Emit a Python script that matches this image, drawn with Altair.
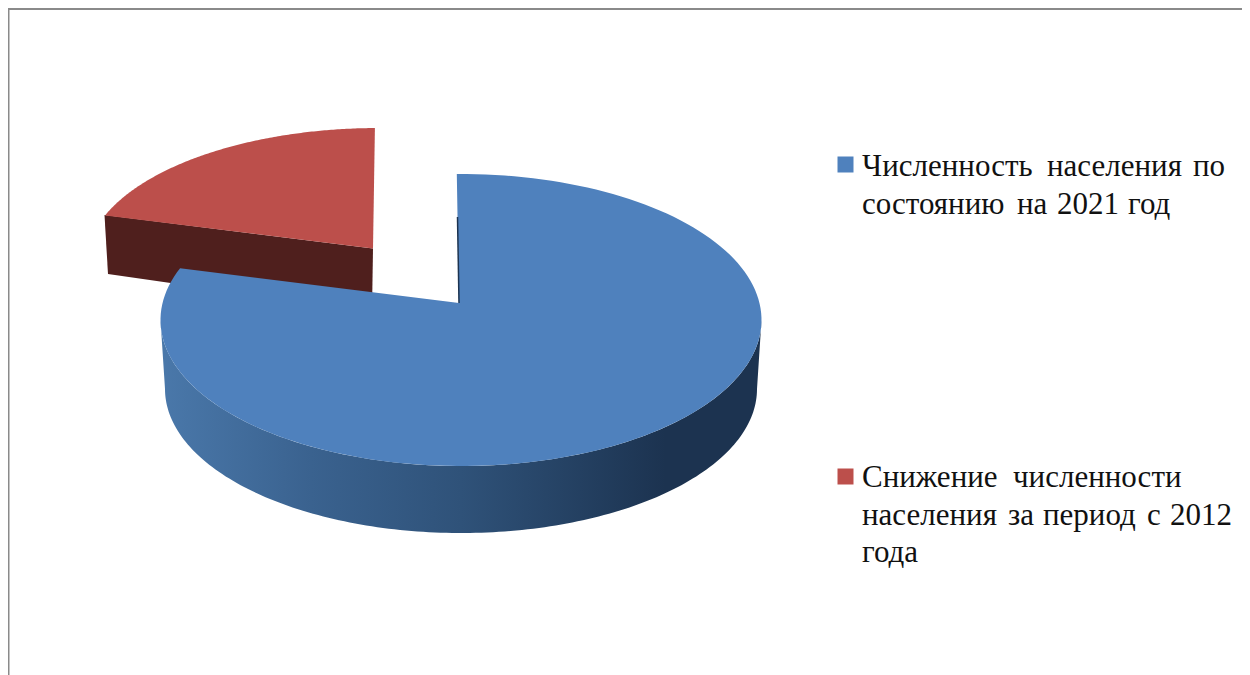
import numpy as np
import pandas as pd
import altair as alt

series = ["Численность населения по состоянию на 2021 год", "Снижение численности населения за период с 2012 года"]
shares = [81.0, 19.0]
legend_lines = [
    ["Численность населения по", "состоянию на 2021 год"],
    ["Снижение численности", "населения за период с 2012", "года"],
]
word_left = [
    [[862, 1047, 1193], [862, 1017, 1057, 1128]],
    [[862, 1013], [862, 1008, 1043, 1147, 1170], [862]],
]
START = -0.8
W, H = 1234, 667
BLUE, RED, DARK_RED, DARK_BLUE = "#4f81bd", "#bc4f4b", "#4f1f1d", "#1c3350"

a0 = START
a1 = a0 + shares[0] * 3.6
a2 = a1 + shares[1] * 3.6


def rim(cx, cy, rx, ry, t0, t1, n=160):
    t = np.radians(np.linspace(t0, t1, n))
    return list(cx + rx * np.sin(t)), list(cy - ry * np.cos(t))


def frame(xs, ys):
    return pd.DataFrame({"x": xs, "y": ys, "i": range(len(xs))})


# blue slice
bx, by = rim(461, 320, 300.5, 146, a0, a1)
blue_top = frame(bx + [459], by + [303])
wx, wy = rim(461, 320, 300.5, 146, 90, 270)
wx2, wy2 = rim(461, 389, 296, 144, 270, 90)
blue_wall = frame(wx + wx2, wy + wy2)
notch = frame([457.5, 459], [217, 303])

# detached red slice
rx_, ry_ = rim(379, 263.5, 293, 135.5, a1, a2)
red_top = frame(rx_ + [373], ry_ + [248.5])
red_wall = frame([104.5, 373, 372, 108], [215, 248.5, 312, 274])

X = alt.X("x:Q", axis=None, scale=alt.Scale(domain=[8, 8 + W], nice=False, zero=False))
Y = alt.Y("y:Q", axis=None, scale=alt.Scale(domain=[8, 8 + H], reverse=True, nice=False, zero=False))
ORDER = alt.Order("i:Q")


def poly(df, fill):
    return alt.Chart(df).mark_line(fill=fill, stroke=None, interpolate="linear-closed").encode(x=X, y=Y, order=ORDER)


wall_grad = alt.Gradient(
    gradient="linear", x1=0, x2=1, y1=0, y2=0,
    stops=[
        alt.GradientStop(color="#4a78aa", offset=0),
        alt.GradientStop(color="#3a628f", offset=0.25),
        alt.GradientStop(color="#2f5279", offset=0.5),
        alt.GradientStop(color="#1c3350", offset=0.84),
        alt.GradientStop(color="#1c3350", offset=1),
    ],
)

notch_line = alt.Chart(notch).mark_line(color=DARK_BLUE, strokeWidth=1.5).encode(x=X, y=Y, order=ORDER)

legend_rows, text_rows = [], []
for color, ky, lines, lefts, base in zip([BLUE, RED], [164.5, 476.5], legend_lines, word_left, [176, 487]):
    legend_rows.append({"x": 845.5, "y": ky, "c": color})
    for j, (line, xs) in enumerate(zip(lines, lefts)):
        for word, x in zip(line.split(" "), xs):
            text_rows.append({"x": x, "y": base + j * 37.7, "t": word})

squares = alt.Chart(pd.DataFrame(legend_rows)).mark_square(size=256, opacity=1).encode(
    x=X, y=Y, fill=alt.Color("c:N", scale=None), stroke=alt.value(None))
labels = alt.Chart(pd.DataFrame(text_rows)).mark_text(
    align="left", baseline="alphabetic", font="Liberation Serif", fontSize=31, color="#111111"
).encode(x=X, y=Y, text="t:N")

border_color = "#8a8a8a"
left_b = alt.Chart(pd.DataFrame({"a": [0]})).mark_rule(color=border_color, strokeWidth=2).encode(
    x=alt.value(0.5), y=alt.value(0), y2=alt.value(H))
top_b = alt.Chart(pd.DataFrame({"a": [0]})).mark_rule(color=border_color, strokeWidth=2).encode(
    y=alt.value(1), x=alt.value(0), x2=alt.value(W))

chart = alt.layer(
    poly(red_wall, DARK_RED),
    poly(red_top, RED),
    poly(blue_wall, wall_grad),
    poly(blue_top, BLUE),
    notch_line,
    squares,
    labels,
    left_b,
    top_b,
).properties(width=W, height=H, padding=0, autosize=alt.AutoSizeParams(type="none")).configure_view(stroke=None)

chart.save("out.html", embed_options={"renderer": "svg", "actions": False})
